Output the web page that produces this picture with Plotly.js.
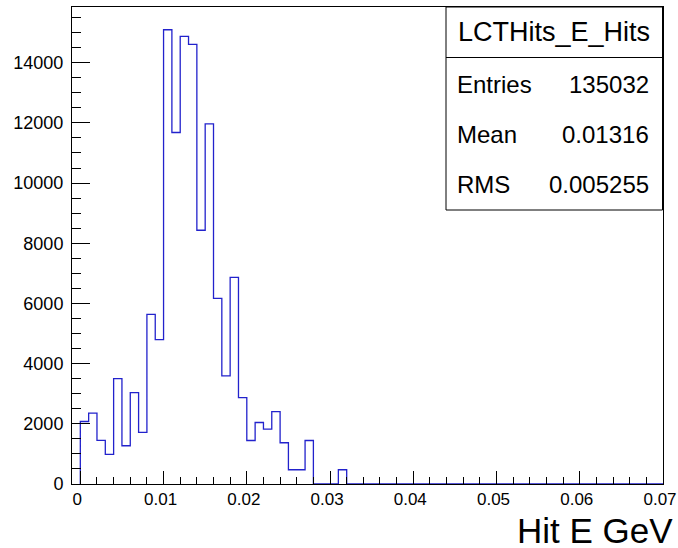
<!DOCTYPE html>
<html>
<head>
<meta charset="utf-8">
<script src="https://cdn.plot.ly/plotly-3.0.1.min.js"></script>
<style>html,body{margin:0;padding:0;background:#fff;}#chart{width:678px;height:548px;}</style>
</head>
<body>
<div id="chart"></div>
<script>
// Histogram definition (bins of 0.001 starting at 0)
var binLow = 0.0;
var binWidth = 0.001;
var counts = [2077, 2354, 1448, 983, 3503, 1271, 3039, 1713, 5635, 4796,
              15094, 11680, 14873, 14608, 8431, 11967, 6170, 3596, 6867, 2871,
              1446, 2043, 1823, 2408, 1370, 474, 474, 1446, 0, 0,
              0, 474, 0, 0, 0, 0, 0, 0, 0, 0,
              0, 0, 0, 0, 0, 0, 0, 0, 0, 0,
              0, 0, 0, 0, 0, 0, 0, 0, 0, 0,
              0, 0, 0, 0, 0, 0, 0, 0, 0, 0];
var xTickVals = [0, 0.01, 0.02, 0.03, 0.04, 0.05, 0.06, 0.07];
var xTickText = ["0", "0.01", "0.02", "0.03", "0.04", "0.05", "0.06", "0.07"];
var yTickVals = [0, 2000, 4000, 6000, 8000, 10000, 12000, 14000];
var yTickText = ["0", "2000", "4000", "6000", "8000", "10000", "12000", "14000"];
var histName = "LCTHits_E_Hits";
var statLabels = ["Entries", "Mean", "RMS"];
var statValues = ["135032", "0.01316", "0.005255"];
var xTitle = "Hit E GeV";

// Step outline
var xs = [binLow], ys = [0];
for (var i = 0; i < counts.length; i++) {
  xs.push(binLow + i * binWidth);
  ys.push(counts[i]);
}
xs.push(binLow + counts.length * binWidth);
ys.push(0);

var W = 678, H = 548;
var L = 72, R = 663, T = 7, B = 484;
function px(x) { return (x - L) / (R - L); }
function py(y) { return (B - y) / (B - T); }

var font = "Liberation Sans, Arial, Helvetica, sans-serif";

var trace = {
  x: xs, y: ys, type: 'scatter', mode: 'lines',
  line: {shape: 'hv', color: '#2222cc', width: 1.3},
  hoverinfo: 'skip', showlegend: false
};

var shapes = [
  {type: 'rect', xref: 'paper', yref: 'paper', x0: px(446), x1: px(662.5), y0: py(210), y1: py(7),
   line: {color: '#000', width: 1}, fillcolor: '#fff', layer: 'above'},
  {type: 'line', xref: 'paper', yref: 'paper', x0: px(446), x1: px(662.5), y0: py(57.5), y1: py(57.5),
   line: {color: '#000', width: 1}}
];

var annotations = [
  {text: histName, xref: 'paper', yref: 'paper', x: px(554), y: py(32), xanchor: 'center', yanchor: 'middle',
   showarrow: false, font: {family: font, size: 27, color: '#000'}},
  {text: xTitle, xref: 'paper', yref: 'paper', x: px(674), y: py(530), xanchor: 'right', yanchor: 'middle',
   showarrow: false, borderpad: 0, font: {family: font, size: 35, color: '#000'}}
];
var rowY = [84.5, 134.5, 184.5];
for (var k = 0; k < statLabels.length; k++) {
  annotations.push({text: statLabels[k], xref: 'paper', yref: 'paper', x: px(455), y: py(rowY[k]),
    xanchor: 'left', yanchor: 'middle', showarrow: false, font: {family: font, size: 24, color: '#000'}});
  annotations.push({text: statValues[k], xref: 'paper', yref: 'paper', x: px(651), y: py(rowY[k]),
    xanchor: 'right', yanchor: 'middle', showarrow: false, font: {family: font, size: 24, color: '#000'}});
}

var layout = {
  width: W, height: H,
  margin: {l: L, r: W - R, t: T, b: H - B},
  paper_bgcolor: '#fff', plot_bgcolor: '#fff',
  showlegend: false,
  font: {family: font, size: 18, color: '#000'},
  xaxis: {
    range: [-0.001, 0.0700005], showgrid: false, zeroline: false,
    showline: true, linecolor: '#000', linewidth: 1, mirror: true,
    ticks: 'inside', ticklen: 13, tickcolor: '#000', tickwidth: 1,
    tickvals: xTickVals, ticktext: xTickText,
    tickfont: {family: font, size: 17, color: '#000'},
    ticklabeloverflow: 'allow', ticklabelshift: -3,
    minor: {dtick: 0.002, tick0: 0, ticks: 'inside', ticklen: 7, tickcolor: '#000', tickwidth: 1, showgrid: false},
    title: {text: ''}
  },
  yaxis: {
    range: [0, 15850], showgrid: false, zeroline: false,
    showline: true, linecolor: '#000', linewidth: 1, mirror: true,
    ticks: 'inside', ticklen: 18, tickcolor: '#000', tickwidth: 1,
    tickvals: yTickVals, ticktext: yTickText,
    tickfont: {family: font, size: 18, color: '#000'},
    ticklabelstandoff: 4,
    minor: {dtick: 500, tick0: 0, ticks: 'inside', ticklen: 9, tickcolor: '#000', tickwidth: 1, showgrid: false},
    title: {text: ''}
  },
  shapes: shapes,
  annotations: annotations
};

Plotly.newPlot('chart', [trace], layout, {displayModeBar: false, staticPlot: true});
</script>
</body>
</html>
